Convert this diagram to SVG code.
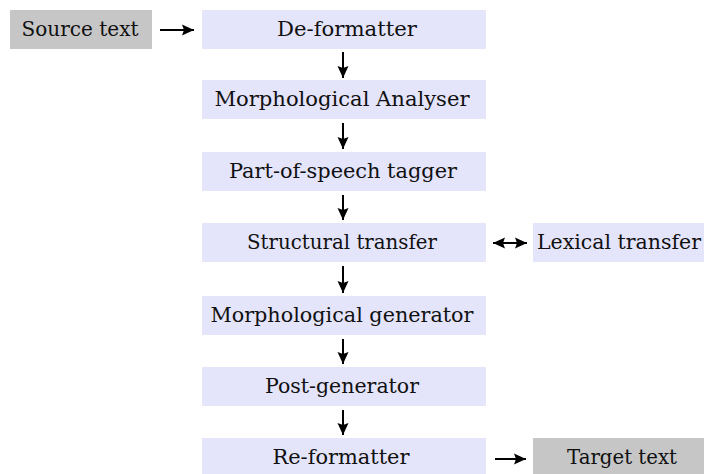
<svg xmlns="http://www.w3.org/2000/svg" width="704" height="474" viewBox="0 0 704 474">
  <style>
    .stage { fill: #e4e4fa; }
    .io { fill: #c6c6c6; }
    text { font-family: "DejaVu Serif", "Liberation Serif", serif; font-size: 21px; fill: #111; text-anchor: middle; }
    .wire { stroke: #000; stroke-width: 2; fill: none; }
  </style>
  <defs>
    <marker id="head" markerUnits="userSpaceOnUse" markerWidth="13" markerHeight="12" refX="12" refY="6" orient="auto-start-reverse">
      <path d="M0,0.5 L12,6 L0,11.5 L2,6 Z" fill="#000"/>
    </marker>
  </defs>

  <rect width="704" height="474" fill="#fff"/>

  <g id="source-text">
    <rect class="io" x="10" y="10" width="142" height="39"/>
    <text x="80" y="36" textLength="117" lengthAdjust="spacingAndGlyphs">Source text</text>
  </g>
  <g id="de-formatter">
    <rect class="stage" x="202" y="10" width="284" height="39"/>
    <text x="347" y="36" textLength="140" lengthAdjust="spacingAndGlyphs">De-formatter</text>
  </g>
  <g id="morphological-analyser">
    <rect class="stage" x="202" y="80" width="284" height="39"/>
    <text x="342" y="106" textLength="255" lengthAdjust="spacingAndGlyphs">Morphological Analyser</text>
  </g>
  <g id="pos-tagger">
    <rect class="stage" x="202" y="152" width="284" height="39"/>
    <text x="343" y="178" textLength="228" lengthAdjust="spacingAndGlyphs">Part-of-speech tagger</text>
  </g>
  <g id="structural-transfer">
    <rect class="stage" x="202" y="223" width="284" height="39"/>
    <text x="342" y="249" textLength="190" lengthAdjust="spacingAndGlyphs">Structural transfer</text>
  </g>
  <g id="lexical-transfer">
    <rect class="stage" x="533" y="223" width="171" height="39"/>
    <text x="619" y="249" textLength="164" lengthAdjust="spacingAndGlyphs">Lexical transfer</text>
  </g>
  <g id="morphological-generator">
    <rect class="stage" x="202" y="296" width="284" height="39"/>
    <text x="342" y="322" textLength="263" lengthAdjust="spacingAndGlyphs">Morphological generator</text>
  </g>
  <g id="post-generator">
    <rect class="stage" x="202" y="367" width="284" height="39"/>
    <text x="342" y="393" textLength="154" lengthAdjust="spacingAndGlyphs">Post-generator</text>
  </g>
  <g id="re-formatter">
    <rect class="stage" x="202" y="438" width="284" height="40"/>
    <text x="341" y="464" textLength="137" lengthAdjust="spacingAndGlyphs">Re-formatter</text>
  </g>
  <g id="target-text">
    <rect class="io" x="533" y="438" width="171" height="40"/>
    <text x="622" y="464" textLength="110" lengthAdjust="spacingAndGlyphs">Target text</text>
  </g>

  <g id="connectors">
    <line class="wire" x1="160" y1="30" x2="194" y2="30" marker-end="url(#head)"/>
    <line class="wire" x1="343" y1="52" x2="343" y2="78" marker-end="url(#head)"/>
    <line class="wire" x1="343" y1="123" x2="343" y2="149" marker-end="url(#head)"/>
    <line class="wire" x1="343" y1="195" x2="343" y2="220" marker-end="url(#head)"/>
    <line class="wire" x1="343" y1="266" x2="343" y2="293" marker-end="url(#head)"/>
    <line class="wire" x1="343" y1="339" x2="343" y2="364" marker-end="url(#head)"/>
    <line class="wire" x1="343" y1="410" x2="343" y2="435" marker-end="url(#head)"/>
    <line class="wire" x1="493" y1="243" x2="527" y2="243" marker-start="url(#head)" marker-end="url(#head)"/>
    <line class="wire" x1="495" y1="459" x2="526" y2="459" marker-end="url(#head)"/>
  </g>
</svg>
